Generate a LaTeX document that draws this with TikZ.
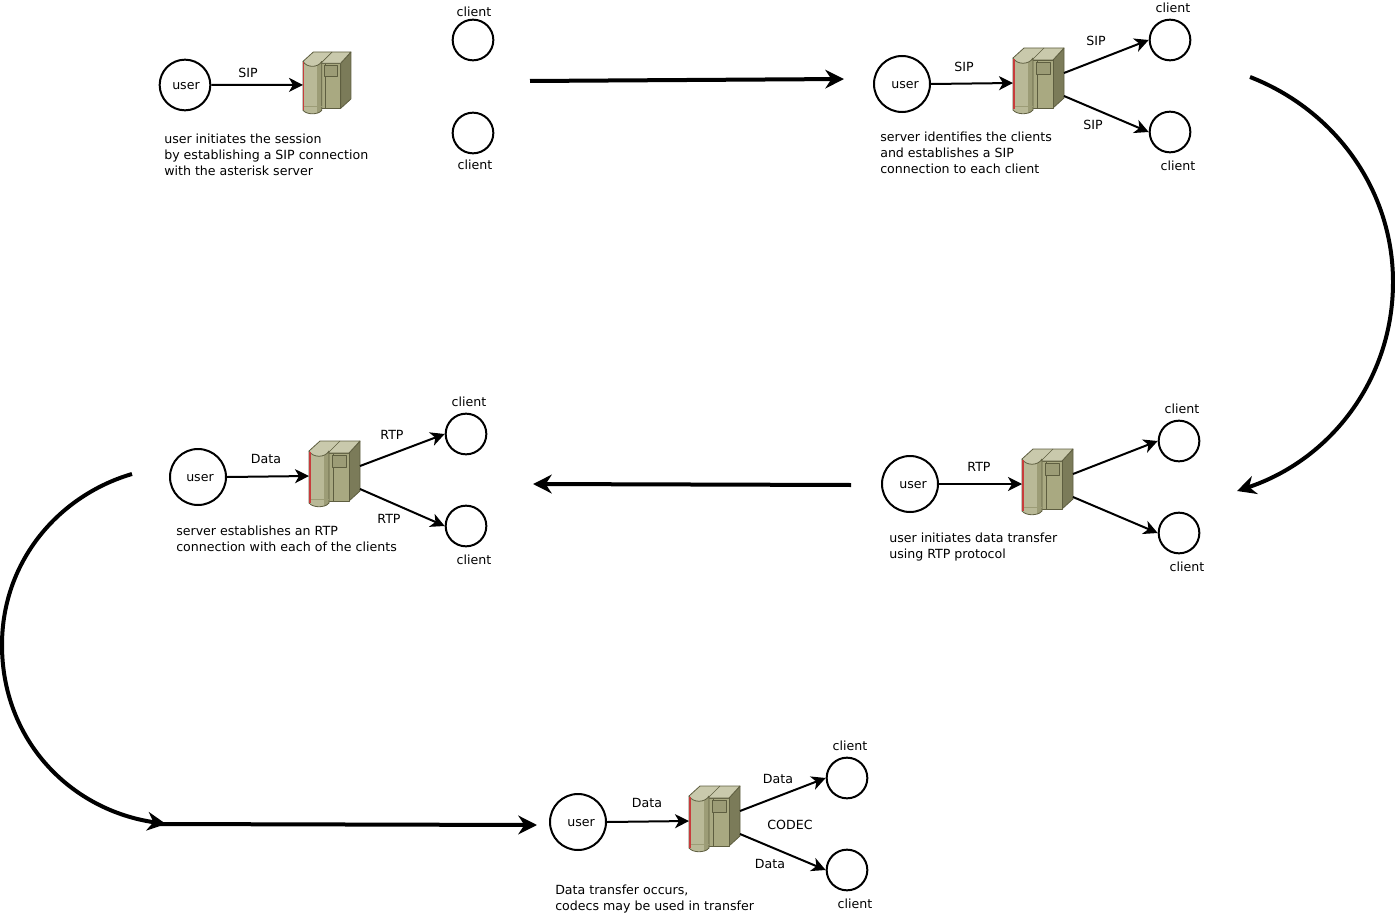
\documentclass[tikz,border=0pt]{standalone}
\usepackage{fontspec}
\setmainfont{DejaVu Sans}
\usetikzlibrary{arrows.meta}
\definecolor{srvline}{HTML}{5E5E40}
\definecolor{srvtop}{HTML}{C9C9AC}
\definecolor{srvfront}{HTML}{A9A981}
\definecolor{srvside}{HTML}{7B7B59}
\definecolor{srvcyl}{HTML}{B9B997}
\definecolor{srvstrip}{HTML}{9C9C76}
\definecolor{srvred}{HTML}{C83C3C}
\tikzset{
 txt/.style={font=\fontsize{9.45}{12}\selectfont,inner sep=0pt,yshift=-0.75pt},
 note/.style={txt,align=left,anchor=west},
 user/.style={circle,draw=black,line width=1.5pt,inner sep=0pt,minimum size=#1},
 user/.default=42pt,
 client/.style={circle,draw=black,line width=1.5pt,inner sep=0pt,minimum size=30.5pt},
 link/.style={black,-{Stealth[length=10.5pt,width=10.5pt,inset=3pt]},line width=1.5pt},
 flow/.style={black,-{Stealth[length=14pt,width=14pt,inset=4.5pt]},line width=3pt},
 server/.pic={
  \coordinate (-in) at (0,35);
  \coordinate (-outa) at (51,25);
  \coordinate (-outb) at (51,48);
  \begin{scope}[line join=round]
  \draw[srvline,fill=srvside,line width=.6pt] (40,12)--(51,0)--(51,50)--(40,60)--cycle;
  \draw[srvline,fill=srvfront,line width=.6pt] (18,12)--(40,12)--(40,60)--(18,60)--cycle;
  \draw[srvline,line width=.3pt] (24,12)--(24,60);
  \draw[srvline,fill=srvstrip,line width=.6pt] (23,14) rectangle (37,26);
  \fill[srvcyl] (0,10)--(20,10)--(20,62) .. controls (16,67) and (4,67) .. (0,62)--cycle;
  \fill[srvstrip] (15,10)--(20,10)--(20,62) .. controls (19,64) and (17,65) .. (15,65.4)--cycle;
  \draw[srvline,line width=.6pt] (20,10)--(20,62) .. controls (16,67) and (4,67) .. (0,62)--(0,10);
  \draw[srvstrip,line width=.4pt] (0,58)--(20,58);
  \draw[srvline,fill=srvtop,line width=.6pt] (0,10)--(11,0)--(51,0)--(40,12)--(20,12)--(20,10) .. controls (16,17) and (4,17) .. (0,10)--cycle;
  \draw[srvline,line width=.5pt] (31,0)--(20,11);
  \fill[srvred] (-0.5,11) rectangle (1.5,61.5);
  \end{scope}
 }
}
\begin{document}
\begin{tikzpicture}[x=0.75pt,y=-0.75pt]
 \path[use as bounding box] (0,0) rectangle (1395,913);

 \node[user=38pt] (usera) at (185,85) {};
 \pic[scale=.94] (srva) at (303,52) {server};
 \node[client] (clienta) at (473,40) {};
 \node[client] (clientb) at (473,133) {};
 \node[txt] (lusera) at (186,85) {user};
 \node[txt] (lclienta) at (474,11) {client};
 \node[txt] (lclientb) at (475,164) {client};
 \node[txt] (siplabela) at (248,72) {SIP};
 \node[note] (notea) at (164,154) {user initiates the session\\by establishing a SIP connection\\with the asterisk server};
 \draw[link] (usera.east)--(srva-in);

 \node[user] (userb) at (902,84) {};
 \pic (srvb) at (1013,48) {server};
 \node[client] (clientc) at (1170,40) {};
 \node[client] (clientd) at (1170,132) {};
 \node[txt] (luserb) at (905,84) {user};
 \node[txt] (lclientc) at (1173,7) {client};
 \node[txt] (lclientd) at (1178,165) {client};
 \node[txt] (siplabelb) at (964,66) {SIP};
 \node[txt] (siplabelc) at (1096,40) {SIP};
 \node[txt] (siplabeld) at (1093,124) {SIP};
 \node[note] (noteb) at (880,152) {server identifies the clients\\and establishes a SIP\\connection to each client};
 \draw[link] (userb.east)--(srvb-in);
 \draw[link] (srvb-outa)--(clientc.west);
 \draw[link] (srvb-outb)--(clientd.west);

 \node[user] (userc) at (910,484) {};
 \pic (srvc) at (1022,449) {server};
 \node[client] (cliente) at (1179,441) {};
 \node[client] (clientf) at (1179,533) {};
 \node[txt] (luserc) at (913,484) {user};
 \node[txt] (lcliente) at (1182,408) {client};
 \node[txt] (lclientf) at (1187,566) {client};
 \node[txt] (rtplabela) at (979,466) {RTP};
 \node[note] (notec) at (889,546) {user initiates data transfer\\using RTP protocol};
 \draw[link] (userc.east)--(srvc-in);
 \draw[link] (srvc-outa)--(cliente.west);
 \draw[link] (srvc-outb)--(clientf.west);

 \node[user] (userd) at (198,477) {};
 \pic (srvd) at (309,441) {server};
 \node[client] (clientg) at (466,434) {};
 \node[client] (clienth) at (466,526) {};
 \node[txt] (luserd) at (200,477) {user};
 \node[txt] (lclientg) at (469,401) {client};
 \node[txt] (lclienth) at (474,559) {client};
 \node[txt] (datalabela) at (266,458) {Data};
 \node[txt] (rtplabelb) at (392,434) {RTP};
 \node[txt] (rtplabelc) at (389,518) {RTP};
 \node[note] (noted) at (176,538) {server establishes an RTP\\connection with each of the clients};
 \draw[link] (userd.east)--(srvd-in);
 \draw[link] (srvd-outa)--(clientg.west);
 \draw[link] (srvd-outb)--(clienth.west);

 \node[user] (usere) at (578,822) {};
 \pic (srve) at (689,786) {server};
 \node[client] (clienti) at (847,778) {};
 \node[client] (clientj) at (847,870) {};
 \node[txt] (lusere) at (581,822) {user};
 \node[txt] (lclienti) at (850,745) {client};
 \node[txt] (lclientj) at (855,903) {client};
 \node[txt] (datalabelb) at (647,802) {Data};
 \node[txt] (datalabelc) at (778,778) {Data};
 \node[txt] (datalabeld) at (770,863) {Data};
 \node[txt] (codeclabel) at (790,824) {CODEC};
 \node[note] (notee) at (555,898) {Data transfer occurs,\\codecs may be used in transfer};
 \draw[link] (usere.east)--(srve-in);
 \draw[link] (srve-outa)--(clienti.west);
 \draw[link] (srve-outb)--(clientj.west);

 \coordinate (flowa) at (530,81);
 \coordinate (flowb) at (844,79);
 \coordinate (flowc) at (1250,77);
 \coordinate (flowd) at (1237,491);
 \coordinate (flowe) at (851,485);
 \coordinate (flowf) at (533,484);
 \coordinate (flowg) at (132,474);
 \coordinate (flowh) at (166,824);
 \coordinate (flowj) at (160,824);
 \coordinate (flowi) at (537,825);
 \draw[flow] (flowa)--(flowb);
 \draw[flow] (flowc) .. controls (1335,110) and (1393,190) .. (1393,282) .. controls (1393,380) and (1330,460) .. (flowd);
 \draw[flow] (flowe)--(flowf);
 \draw[flow] (flowg) .. controls (60,495) and (2,560) .. (2,645) .. controls (2,740) and (70,810) .. (flowh);
 \draw[flow] (flowj)--(flowi);
\end{tikzpicture}
\end{document}
